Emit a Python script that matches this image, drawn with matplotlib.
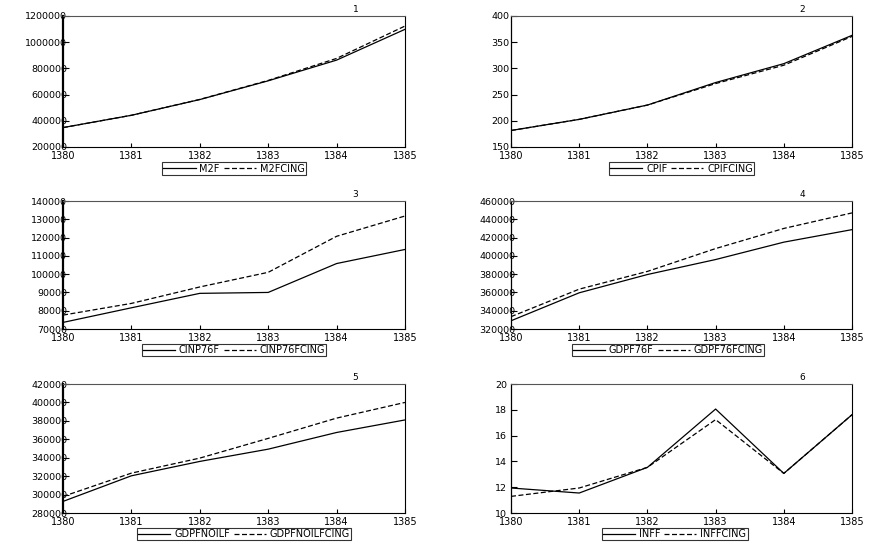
import matplotlib
matplotlib.use("Agg")
import matplotlib.pyplot as plt
from matplotlib.ticker import FuncFormatter

years = [1380, 1381, 1382, 1383, 1384, 1385]

# panel 1
m2f = [348000, 442000, 562000, 705000, 863000, 1098000]
m2fcing = [348000, 442000, 563000, 708000, 876000, 1123000]
# panel 2
cpif = [181.5, 202.7, 230, 273, 309, 363]
cpifcing = [181.5, 202.7, 230, 271, 306, 361]
# panel 3
cinp76f = [73600, 81600, 89500, 90000, 105800, 113500]
cinp76fcing = [77600, 84000, 93000, 101000, 120700, 131800]
# panel 4
gdpf76f = [329000, 359600, 379600, 396000, 415000, 428700]
gdpf76fcing = [333500, 363600, 383000, 408000, 430000, 447000]
# panel 5
gdpfnoilf = [292600, 320400, 336000, 349300, 367400, 381000]
gdpfnoilfcing = [298000, 323300, 339600, 361000, 383000, 400000]
# panel 6
inff = [11.94, 11.55, 13.54, 18.06, 13.07, 17.62]
inffcing = [11.29, 11.94, 13.54, 17.24, 13.07, 17.62]

panels = [
    ("1", "M2F", "M2FCING", m2f, m2fcing, (200000, 1200000, 200000)),
    ("2", "CPIF", "CPIFCING", cpif, cpifcing, (150, 400, 50)),
    ("3", "CINP76F", "CINP76FCING", cinp76f, cinp76fcing, (70000, 140000, 10000)),
    ("4", "GDPF76F", "GDPF76FCING", gdpf76f, gdpf76fcing, (320000, 460000, 20000)),
    ("5", "GDPFNOILF", "GDPFNOILFCING", gdpfnoilf, gdpfnoilfcing, (280000, 420000, 20000)),
    ("6", "INFF", "INFFCING", inff, inffcing, (10, 20, 2)),
]

# axes rectangles (fig fraction)
rects = [
    [0.0716, 0.7293, 0.3886, 0.2413],
    [0.5807, 0.7293, 0.3875, 0.2413],
    [0.0716, 0.3941, 0.3886, 0.2357],
    [0.5807, 0.3941, 0.3875, 0.2357],
    [0.0716, 0.0552, 0.3886, 0.2376],
    [0.5807, 0.0552, 0.3875, 0.2376],
]
ypads = [-3, 1, -3, -3, -3, 3]
legx = [0.5, 0.5, 0.5, 0.46, 0.53, 0.48]

plt.rcParams['font.family'] = ['DejaVu Sans']
fig = plt.figure(figsize=(8.8, 5.43), dpi=100)
plain = FuncFormatter(lambda v, p: '%d' % v)

for i, (num, n1, n2, s1, s2, (lo, hi, st)) in enumerate(panels):
    ax = fig.add_axes(rects[i])
    ax.plot(years, s1, color='black', lw=0.9, label=n1)
    ax.plot(years, s2, color='black', lw=0.9, ls=(0, (4, 2)), label=n2)
    ax.set_xlim(1380, 1385)
    ax.set_ylim(lo, hi)
    ax.set_xticks(years)
    ax.set_yticks(list(range(lo, hi + 1, st)))
    ax.yaxis.set_major_formatter(plain)
    ax.xaxis.set_major_formatter(plain)
    ax.tick_params(axis='y', direction='in', length=4, width=0.8, pad=ypads[i], labelsize=6.8)
    ax.tick_params(axis='x', direction='in', length=3, width=0.8, pad=3, labelsize=7)
    ax.spines['left'].set_linewidth(1.6 if i % 2 == 0 else 0.9)
    ax.spines['top'].set_color('#555555')
    ax.spines['top'].set_linewidth(0.8)
    ax.spines['right'].set_linewidth(0.8)
    ax.spines['bottom'].set_linewidth(0.8)
    ax.text(0.855, 1.015, num, transform=ax.transAxes, fontsize=6.5, ha='center', va='bottom')
    leg = ax.legend(loc='center', bbox_to_anchor=(legx[i], -0.165), ncol=2, fontsize=7,
                    frameon=True, fancybox=False, handlelength=3.3, handletextpad=0.4,
                    columnspacing=0.4, borderpad=0.12, borderaxespad=0)
    leg.get_frame().set_edgecolor('black')
    leg.get_frame().set_linewidth(0.8)

fig.savefig('out.png', dpi=100)
